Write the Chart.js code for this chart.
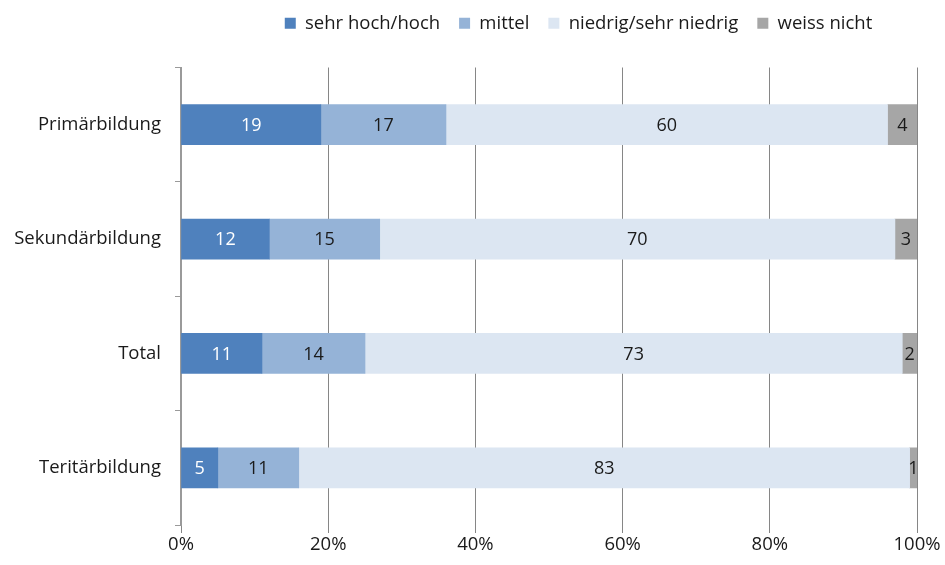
<!DOCTYPE html>
<html>
<head>
<meta charset="utf-8">
<script src="https://cdn.jsdelivr.net/npm/chart.js@4/dist/chart.umd.min.js"></script>
<style>
html,body{margin:0;padding:0;background:#fff;}
#wrap{width:945px;height:565px;}
</style>
</head>
<body>
<div id="wrap"><canvas id="c" width="945" height="565"></canvas></div>
<script>
const categories = ['Primärbildung', 'Sekundärbildung', 'Total', 'Teritärbildung'];
const seriesNames = ['sehr hoch/hoch', 'mittel', 'niedrig/sehr niedrig', 'weiss nicht'];
const sehrHochHoch = [19, 12, 11, 5];
const mittel = [17, 15, 14, 11];
const niedrigSehrNiedrig = [60, 70, 73, 83];
const weissNicht = [4, 3, 2, 1];
const xTickValues = [0, 20, 40, 60, 80, 100];

const colors = ['#4F81BD', '#95B3D7', '#DCE6F2', '#A6A6A6'];
const labelColors = ['#ffffff', '#1a1a1a', '#1a1a1a', '#1a1a1a'];
const FONT = '"Open Sans", "Noto Sans", sans-serif';
const TEXT = '#1a1a1a';
const FS = 18.5;

const seriesValues = [sehrHochHoch, mittel, niedrigSehrNiedrig, weissNicht];

const LEGEND_DX = 120;
const LEGEND_DY = -25;

const legendShift = {
  id: 'legendShift',
  afterLayout(chart) {
    const lg = chart.legend;
    if (!lg) return;
    lg.left += LEGEND_DX;
    lg.right += LEGEND_DX;
    lg.top += LEGEND_DY;
    lg.bottom += LEGEND_DY;
  }
};

const valueLabels = {
  id: 'valueLabels',
  afterDatasetsDraw(chart) {
    const ctx = chart.ctx;
    ctx.save();
    ctx.font = '18px ' + FONT;
    ctx.textAlign = 'center';
    ctx.textBaseline = 'middle';
    chart.data.datasets.forEach((ds, i) => {
      const meta = chart.getDatasetMeta(i);
      meta.data.forEach((el, j) => {
        const p = el.getProps(['x', 'y', 'base'], true);
        ctx.fillStyle = labelColors[i];
        ctx.fillText(String(ds.data[j]), (p.x + p.base) / 2, p.y + 1);
      });
    });
    ctx.restore();
  }
};

new Chart(document.getElementById('c'), {
  type: 'bar',
  data: {
    labels: categories,
    datasets: seriesNames.map((name, i) => ({
      label: name,
      data: seriesValues[i],
      backgroundColor: colors[i],
      borderWidth: 0,
      barThickness: 40
    }))
  },
  options: {
    indexAxis: 'y',
    responsive: false,
    animation: false,
    events: [],
    layout: { padding: { left: 0, right: 28, top: 20, bottom: 0 } },
    plugins: {
      legend: {
        position: 'top',
        labels: {
          boxWidth: 11,
          boxHeight: 11,
          padding: 19,
          color: TEXT,
          font: { family: FONT, size: FS }
        }
      },
      tooltip: { enabled: false }
    },
    scales: {
      x: {
        stacked: true,
        min: 0,
        max: 100,
        afterBuildTicks(scale) {
          scale.ticks = xTickValues.map(v => ({ value: v }));
        },
        afterFit(scale) { scale.height = 40; },
        ticks: {
          callback: v => v + '%',
          color: TEXT,
          font: { family: FONT, size: FS },
          padding: 1,
          maxRotation: 0
        },
        grid: { color: '#868686', lineWidth: 1, tickLength: 8, drawTicks: true },
        border: { display: false }
      },
      y: {
        stacked: true,
        afterFit(scale) { scale.width = 181; },
        ticks: {
          color: TEXT,
          font: { family: FONT, size: FS },
          padding: 14
        },
        grid: { drawOnChartArea: false, drawTicks: true, tickLength: 6, color: '#9a9a9a', offset: true },
        border: { display: true, color: '#9a9a9a', width: 2 }
      }
    }
  },
  plugins: [legendShift, valueLabels]
});
</script>
</body>
</html>
